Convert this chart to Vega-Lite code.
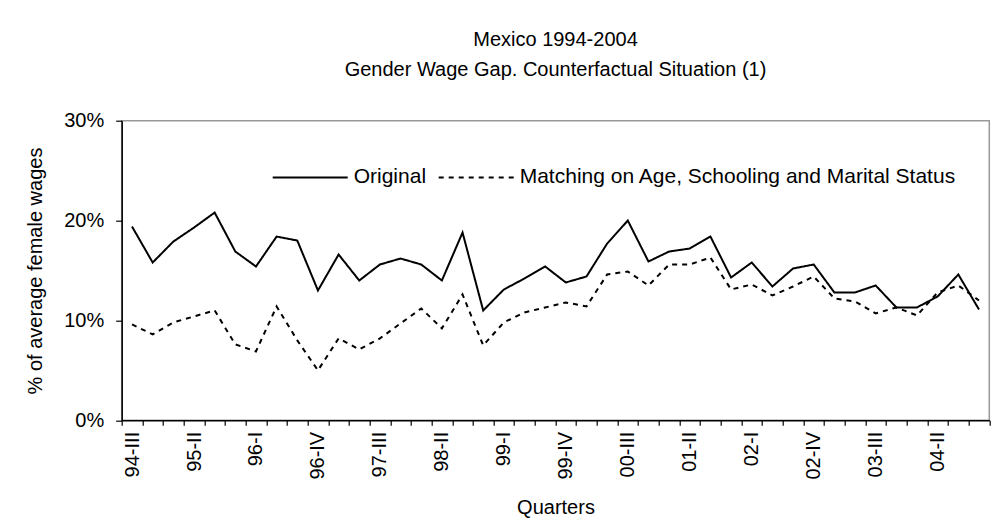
{
  "$schema": "https://vega.github.io/schema/vega-lite/v6.json",
  "autosize": "none",
  "width": 867.6,
  "height": 299.6,
  "padding": {"left": 121.7, "top": 120.7, "right": 10.7, "bottom": 111.7},
  "background": "white",
  "title": {
    "text": ["Mexico 1994-2004", "Gender Wage Gap. Counterfactual Situation (1)"],
    "fontSize": 20,
    "font": "Liberation Sans",
    "fontWeight": "normal",
    "color": "black",
    "anchor": "middle",
    "frame": "group",
    "baseline": "bottom",
    "lineHeight": 30,
    "offset": 11
  },
  "config": {
    "font": "Liberation Sans",
    "view": {"stroke": "#999999", "strokeWidth": 1.5},
    "axis": {"labelFont": "Liberation Sans", "titleFont": "Liberation Sans", "labelColor": "black", "titleColor": "black", "titleFontWeight": "normal", "domainColor": "black", "tickColor": "black", "domainWidth": 1.5, "tickWidth": 1.2, "grid": false}
  },
  "data": {
    "values": [
      {"q": "94-III", "s": "Original", "v": 0.194}, {"q": "94-III", "s": "Matching on Age, Schooling and Marital Status", "v": 0.096},
      {"q": "94-IV", "s": "Original", "v": 0.158}, {"q": "94-IV", "s": "Matching on Age, Schooling and Marital Status", "v": 0.086},
      {"q": "95-I", "s": "Original", "v": 0.179}, {"q": "95-I", "s": "Matching on Age, Schooling and Marital Status", "v": 0.098},
      {"q": "95-II", "s": "Original", "v": 0.193}, {"q": "95-II", "s": "Matching on Age, Schooling and Marital Status", "v": 0.104},
      {"q": "95-III", "s": "Original", "v": 0.208}, {"q": "95-III", "s": "Matching on Age, Schooling and Marital Status", "v": 0.110},
      {"q": "95-IV", "s": "Original", "v": 0.169}, {"q": "95-IV", "s": "Matching on Age, Schooling and Marital Status", "v": 0.076},
      {"q": "96-I", "s": "Original", "v": 0.154}, {"q": "96-I", "s": "Matching on Age, Schooling and Marital Status", "v": 0.069},
      {"q": "96-II", "s": "Original", "v": 0.184}, {"q": "96-II", "s": "Matching on Age, Schooling and Marital Status", "v": 0.114},
      {"q": "96-III", "s": "Original", "v": 0.180}, {"q": "96-III", "s": "Matching on Age, Schooling and Marital Status", "v": 0.080},
      {"q": "96-IV", "s": "Original", "v": 0.130}, {"q": "96-IV", "s": "Matching on Age, Schooling and Marital Status", "v": 0.050},
      {"q": "97-I", "s": "Original", "v": 0.166}, {"q": "97-I", "s": "Matching on Age, Schooling and Marital Status", "v": 0.082},
      {"q": "97-II", "s": "Original", "v": 0.140}, {"q": "97-II", "s": "Matching on Age, Schooling and Marital Status", "v": 0.071},
      {"q": "97-III", "s": "Original", "v": 0.156}, {"q": "97-III", "s": "Matching on Age, Schooling and Marital Status", "v": 0.082},
      {"q": "97-IV", "s": "Original", "v": 0.162}, {"q": "97-IV", "s": "Matching on Age, Schooling and Marital Status", "v": 0.097},
      {"q": "98-I", "s": "Original", "v": 0.156}, {"q": "98-I", "s": "Matching on Age, Schooling and Marital Status", "v": 0.112},
      {"q": "98-II", "s": "Original", "v": 0.140}, {"q": "98-II", "s": "Matching on Age, Schooling and Marital Status", "v": 0.092},
      {"q": "98-III", "s": "Original", "v": 0.188}, {"q": "98-III", "s": "Matching on Age, Schooling and Marital Status", "v": 0.126},
      {"q": "98-IV", "s": "Original", "v": 0.110}, {"q": "98-IV", "s": "Matching on Age, Schooling and Marital Status", "v": 0.075},
      {"q": "99-I", "s": "Original", "v": 0.131}, {"q": "99-I", "s": "Matching on Age, Schooling and Marital Status", "v": 0.098},
      {"q": "99-II", "s": "Original", "v": 0.142}, {"q": "99-II", "s": "Matching on Age, Schooling and Marital Status", "v": 0.108},
      {"q": "99-III", "s": "Original", "v": 0.154}, {"q": "99-III", "s": "Matching on Age, Schooling and Marital Status", "v": 0.113},
      {"q": "99-IV", "s": "Original", "v": 0.138}, {"q": "99-IV", "s": "Matching on Age, Schooling and Marital Status", "v": 0.118},
      {"q": "00-I", "s": "Original", "v": 0.144}, {"q": "00-I", "s": "Matching on Age, Schooling and Marital Status", "v": 0.114},
      {"q": "00-II", "s": "Original", "v": 0.177}, {"q": "00-II", "s": "Matching on Age, Schooling and Marital Status", "v": 0.146},
      {"q": "00-III", "s": "Original", "v": 0.200}, {"q": "00-III", "s": "Matching on Age, Schooling and Marital Status", "v": 0.149},
      {"q": "00-IV", "s": "Original", "v": 0.159}, {"q": "00-IV", "s": "Matching on Age, Schooling and Marital Status", "v": 0.135},
      {"q": "01-I", "s": "Original", "v": 0.169}, {"q": "01-I", "s": "Matching on Age, Schooling and Marital Status", "v": 0.156},
      {"q": "01-II", "s": "Original", "v": 0.172}, {"q": "01-II", "s": "Matching on Age, Schooling and Marital Status", "v": 0.156},
      {"q": "01-III", "s": "Original", "v": 0.184}, {"q": "01-III", "s": "Matching on Age, Schooling and Marital Status", "v": 0.163},
      {"q": "01-IV", "s": "Original", "v": 0.143}, {"q": "01-IV", "s": "Matching on Age, Schooling and Marital Status", "v": 0.131},
      {"q": "02-I", "s": "Original", "v": 0.158}, {"q": "02-I", "s": "Matching on Age, Schooling and Marital Status", "v": 0.136},
      {"q": "02-II", "s": "Original", "v": 0.134}, {"q": "02-II", "s": "Matching on Age, Schooling and Marital Status", "v": 0.125},
      {"q": "02-III", "s": "Original", "v": 0.152}, {"q": "02-III", "s": "Matching on Age, Schooling and Marital Status", "v": 0.134},
      {"q": "02-IV", "s": "Original", "v": 0.156}, {"q": "02-IV", "s": "Matching on Age, Schooling and Marital Status", "v": 0.144},
      {"q": "03-I", "s": "Original", "v": 0.128}, {"q": "03-I", "s": "Matching on Age, Schooling and Marital Status", "v": 0.122},
      {"q": "03-II", "s": "Original", "v": 0.128}, {"q": "03-II", "s": "Matching on Age, Schooling and Marital Status", "v": 0.119},
      {"q": "03-III", "s": "Original", "v": 0.135}, {"q": "03-III", "s": "Matching on Age, Schooling and Marital Status", "v": 0.107},
      {"q": "03-IV", "s": "Original", "v": 0.113}, {"q": "03-IV", "s": "Matching on Age, Schooling and Marital Status", "v": 0.113},
      {"q": "04-I", "s": "Original", "v": 0.113}, {"q": "04-I", "s": "Matching on Age, Schooling and Marital Status", "v": 0.105},
      {"q": "04-II", "s": "Original", "v": 0.124}, {"q": "04-II", "s": "Matching on Age, Schooling and Marital Status", "v": 0.128},
      {"q": "04-III", "s": "Original", "v": 0.146}, {"q": "04-III", "s": "Matching on Age, Schooling and Marital Status", "v": 0.135},
      {"q": "04-IV", "s": "Original", "v": 0.111}, {"q": "04-IV", "s": "Matching on Age, Schooling and Marital Status", "v": 0.120}
    ]
  },
  "mark": {"type": "line", "color": "black", "strokeWidth": 2},
  "encoding": {
    "x": {
      "field": "q",
      "type": "ordinal",
      "sort": null,
      "scale": {"type": "band", "paddingInner": 0, "paddingOuter": 0},
      "axis": {
        "title": "Quarters",
        "titleFontSize": 20,
        "titlePadding": 18,
        "labelFontSize": 20,
        "labelAngle": 270,
        "labelAlign": "right",
        "labelBaseline": "middle",
        "labelPadding": 6,
        "tickSize": 5,
        "tickBand": "extent",
        "labelOverlap": false,
        "labelExpr": "indexof(['94-III','95-II','96-I','96-IV','97-III','98-II','99-I','99-IV','00-III','01-II','02-I','02-IV','03-III','04-II'], datum.value) >= 0 ? datum.value : ''"
      }
    },
    "y": {
      "field": "v",
      "type": "quantitative",
      "scale": {"domain": [0, 0.3], "nice": false, "zero": true},
      "axis": {
        "title": "% of average female wages",
        "titleFontSize": 20,
        "titlePadding": 18,
        "labelFontSize": 20,
        "labelPadding": 12,
        "tickSize": 6,
        "values": [0, 0.1, 0.2, 0.3],
        "format": ".0%"
      }
    },
    "strokeDash": {
      "field": "s",
      "type": "nominal",
      "scale": {"domain": ["Original", "Matching on Age, Schooling and Marital Status"], "range": [[1, 0], [5, 5]]},
      "legend": {
        "title": null,
        "orient": "none",
        "legendX": 150,
        "legendY": 18,
        "direction": "horizontal",
        "symbolType": "stroke",
        "symbolSize": 5625,
        "symbolStrokeWidth": 2,
        "symbolStrokeColor": "black",
        "labelFontSize": 21,
        "labelColor": "black",
        "labelOffset": 5,
        "columnPadding": 8,
        "padding": 0,
        "labelLimit": 600
      }
    }
  }
}
